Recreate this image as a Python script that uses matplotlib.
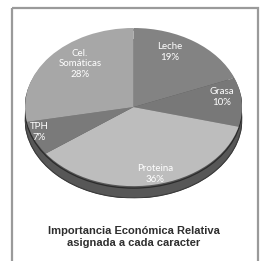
import matplotlib.pyplot as plt
from matplotlib.patches import Rectangle, Circle

categories = ['Leche', 'Grasa', 'Proteina', 'TPH', 'Cel.\nSomáticas']
shares = [19, 10, 36, 7, 28]
top_colors = ['#838383', '#787878', '#bdbdbd', '#7a7a7a', '#a7a7a7']
title_text = 'Importancia Económica Relativa\nasignada a cada caracter'

# where the slice labels sit, in pixels from the top-left
label_xy = [(170, 52), (222, 97), (155, 174), (39, 132), (80, 64)]

W, H = 263, 261
fig = plt.figure(figsize=(W / 100, H / 100), dpi=100)
fig.patch.set_facecolor('white')

# pie axes, stretched to an ellipse so it looks tilted
x0, x1, y0, y1 = 25, 242, 28, 198
thick = 0.15
side = '#575757'
ax = fig.add_axes([x0 / W, 1 - y1 / H, (x1 - x0) / W, (y1 - y0) / H])
ax.pie(shares, center=(0, -thick), radius=1, colors=[side] * len(shares),
       startangle=90, counterclock=False,
       wedgeprops=dict(edgecolor=side, linewidth=0.5))
ax.add_patch(Rectangle((-1, -thick), 2, thick, color=side, lw=0))
ax.add_patch(Circle((0, -thick), 1, fill=False, ec='#3a3a3a', lw=0.8))
ax.add_patch(Circle((0, -0.025), 1, fill=False, ec='#2b2b2b', lw=0.9))
ax.pie(shares, radius=1, colors=top_colors, startangle=90, counterclock=False,
       wedgeprops=dict(edgecolor='none'))
ax.set_xlim(-1, 1)
ax.set_ylim(-1 - thick, 1)
ax.set_aspect('auto')
ax.axis('off')

# overlay in pixel units for frame, labels and title
bg = fig.add_axes([0, 0, 1, 1])
bg.set_xlim(0, W)
bg.set_ylim(H, 0)
bg.axis('off')
bg.add_patch(Rectangle((12, 8), 246, 270, fill=False, ec='#9a9a9a', lw=1.6))

for (x, y), cat, v in zip(label_xy, categories, shares):
    bg.text(x, y, cat + '\n' + str(v) + '%', ha='center', va='center',
            color='white', fontsize=7, family='Lato', linespacing=1.15)

bg.text(134, 237, title_text, ha='center', va='center', fontsize=8,
        fontweight='bold', family='Liberation Sans',
        color='#2e2e2e', linespacing=1.25)

plt.savefig('out.png', dpi=100)
